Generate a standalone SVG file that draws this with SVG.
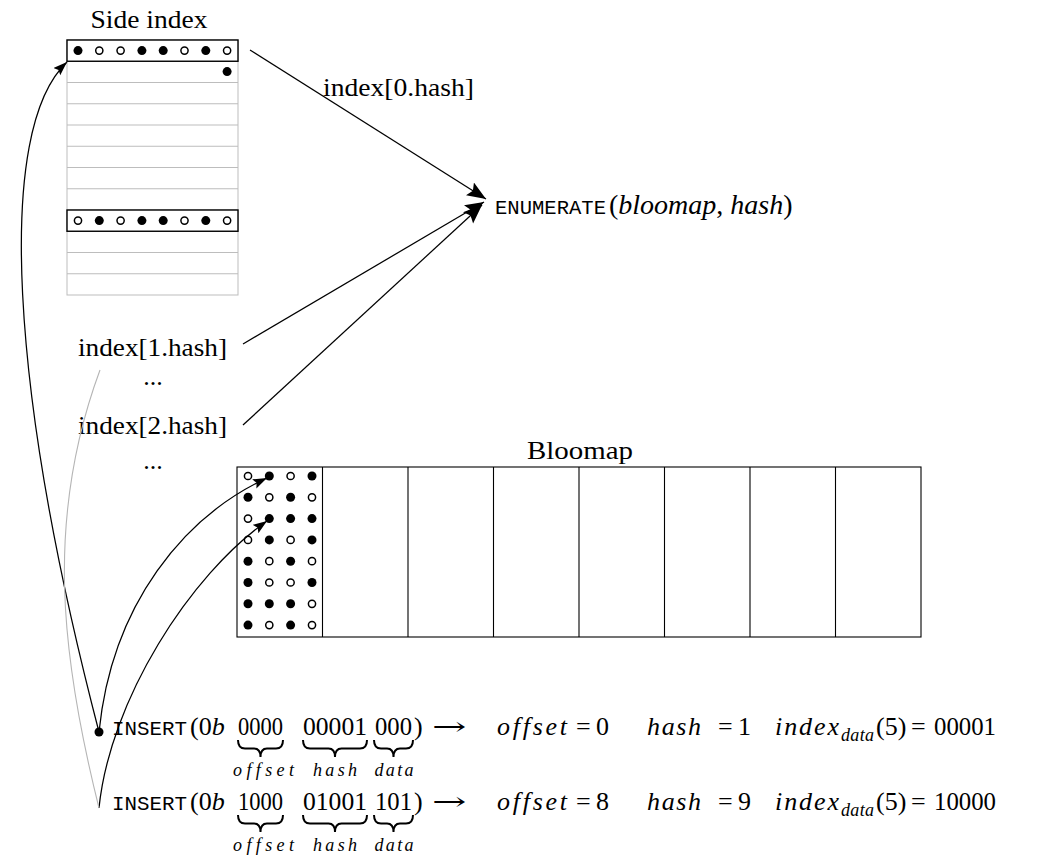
<svg xmlns="http://www.w3.org/2000/svg" width="1056" height="858" viewBox="0 0 1056 858">
<style>
.t{font-family:"Liberation Serif","DejaVu Serif",serif;font-size:26px;fill:#000}
.it{font-style:italic}
.sm{font-size:18px}
.mono{font-family:"Liberation Mono","DejaVu Sans Mono",monospace;font-size:21px;fill:#000}
.arr{font-family:"DejaVu Serif","Liberation Serif",serif;font-size:25px;fill:#000}
.grid{stroke:#bdbdbd;stroke-width:1;fill:none}
.hl{stroke:#000;stroke-width:1.4;fill:#fff}
.f{fill:#000}
.o{fill:#fff;stroke:#000;stroke-width:1.5}
.c{stroke:#000;stroke-width:1.25;fill:none}
.g{stroke:#b5b5b5;stroke-width:1.1;fill:none}
.br{stroke:#000;stroke-width:2;fill:none}
</style>
<defs>
<marker id="ah" markerUnits="userSpaceOnUse" markerWidth="22" markerHeight="16" refX="19" refY="7.5" orient="auto"><path d="M0,0 L19,7.5 L0,15 L3.5,7.5 z" fill="#000"/></marker>
<marker id="as" markerUnits="userSpaceOnUse" markerWidth="16" markerHeight="12" refX="14" refY="5" orient="auto"><path d="M0,0 L14,5 L0,10 L2.5,5 z" fill="#000"/></marker>
</defs>

<g id="side-index">
<text class="t" x="149" y="28" text-anchor="middle" textLength="117" lengthAdjust="spacingAndGlyphs">Side index</text>
<rect class="grid" x="67" y="40" width="171" height="255"/>
<path class="grid" d="M67,61.25H238M67,82.5H238M67,103.75H238M67,125H238M67,146.25H238M67,167.5H238M67,188.75H238M67,210H238M67,231.25H238M67,252.5H238M67,273.75H238"/>
<rect class="hl" x="67" y="40" width="171" height="21.25"/>
<circle class="f" cx="78" cy="50.6" r="4.5"/><circle class="o" cx="99.3" cy="50.6" r="3.6"/><circle class="o" cx="120.6" cy="50.6" r="3.6"/><circle class="f" cx="141.9" cy="50.6" r="4.5"/><circle class="f" cx="163.2" cy="50.6" r="4.5"/><circle class="o" cx="184.5" cy="50.6" r="3.6"/><circle class="f" cx="205.8" cy="50.6" r="4.5"/><circle class="o" cx="227.1" cy="50.6" r="3.6"/>
<circle class="f" cx="227.1" cy="71.6" r="4.5"/>
<rect class="hl" x="67" y="210" width="171" height="21.25"/>
<circle class="o" cx="78" cy="220.6" r="3.6"/><circle class="f" cx="99.3" cy="220.6" r="4.5"/><circle class="o" cx="120.6" cy="220.6" r="3.6"/><circle class="f" cx="141.9" cy="220.6" r="4.5"/><circle class="f" cx="163.2" cy="220.6" r="4.5"/><circle class="o" cx="184.5" cy="220.6" r="3.6"/><circle class="f" cx="205.8" cy="220.6" r="4.5"/><circle class="o" cx="227.1" cy="220.6" r="3.6"/>
</g>

<g id="label-index0"><text class="t" x="323" y="96" textLength="151" lengthAdjust="spacingAndGlyphs">index[0.hash]</text></g>

<g id="enumerate">
<text class="mono" x="495" y="214" textLength="111" lengthAdjust="spacingAndGlyphs">ENUMERATE</text>
<text class="t" x="609" y="214" style="font-size:28px">(<tspan class="it">bloomap</tspan>, <tspan class="it">hash</tspan>)</text>
</g>

<g id="label-index1"><text class="t" x="78" y="356" textLength="149" lengthAdjust="spacingAndGlyphs">index[1.hash]</text><text class="t" x="153" y="385" text-anchor="middle">...</text></g>
<g id="label-index2"><text class="t" x="78" y="434" textLength="149" lengthAdjust="spacingAndGlyphs">index[2.hash]</text><text class="t" x="153" y="469" text-anchor="middle">...</text></g>

<g id="bloomap">
<text class="t" x="580" y="459" text-anchor="middle" textLength="106" lengthAdjust="spacingAndGlyphs">Bloomap</text>
<rect x="237" y="467" width="684" height="170" fill="none" stroke="#000" stroke-width="1.1"/>
<path d="M322.5,467V637M408,467V637M493.5,467V637M579,467V637M664.5,467V637M750,467V637M835.5,467V637" stroke="#000" stroke-width="1.1"/>
<g>
<circle class="o" cx="248" cy="476" r="3.6"/><circle class="f" cx="269.3" cy="476" r="4.5"/><circle class="o" cx="290.6" cy="476" r="3.6"/><circle class="f" cx="312" cy="476" r="4.5"/>
<circle class="f" cx="248" cy="497.3" r="4.5"/><circle class="o" cx="269.3" cy="497.3" r="3.6"/><circle class="f" cx="290.6" cy="497.3" r="4.5"/><circle class="o" cx="312" cy="497.3" r="3.6"/>
<circle class="o" cx="248" cy="518.6" r="3.6"/><circle class="f" cx="269.3" cy="518.6" r="4.5"/><circle class="f" cx="290.6" cy="518.6" r="4.5"/><circle class="f" cx="312" cy="518.6" r="4.5"/>
<circle class="o" cx="248" cy="539.9" r="3.6"/><circle class="f" cx="269.3" cy="539.9" r="4.5"/><circle class="o" cx="290.6" cy="539.9" r="3.6"/><circle class="f" cx="312" cy="539.9" r="4.5"/>
<circle class="f" cx="248" cy="561.2" r="4.5"/><circle class="o" cx="269.3" cy="561.2" r="3.6"/><circle class="f" cx="290.6" cy="561.2" r="4.5"/><circle class="o" cx="312" cy="561.2" r="3.6"/>
<circle class="f" cx="248" cy="582.5" r="4.5"/><circle class="o" cx="269.3" cy="582.5" r="3.6"/><circle class="o" cx="290.6" cy="582.5" r="3.6"/><circle class="f" cx="312" cy="582.5" r="4.5"/>
<circle class="f" cx="248" cy="603.8" r="4.5"/><circle class="f" cx="269.3" cy="603.8" r="4.5"/><circle class="f" cx="290.6" cy="603.8" r="4.5"/><circle class="o" cx="312" cy="603.8" r="3.6"/>
<circle class="f" cx="248" cy="625.1" r="4.5"/><circle class="o" cx="269.3" cy="625.1" r="3.6"/><circle class="f" cx="290.6" cy="625.1" r="4.5"/><circle class="o" cx="312" cy="625.1" r="3.6"/>
</g>
</g>

<g id="insert1">
<circle class="f" cx="99" cy="732" r="4.5"/>
<text class="mono" x="112" y="735" textLength="75" lengthAdjust="spacingAndGlyphs">INSERT</text>
<text class="t" x="190" y="735">(0<tspan class="it">b</tspan></text>
<text class="t" x="238" y="735" textLength="45" lengthAdjust="spacingAndGlyphs">0000</text>
<text class="t" x="303" y="735" textLength="64" lengthAdjust="spacingAndGlyphs">00001</text>
<text class="t" x="375" y="735" textLength="37" lengthAdjust="spacingAndGlyphs">000</text>
<text class="t" x="414" y="735">)</text>
<text class="arr" transform="translate(432,735) scale(1.65,1)" x="0" y="0">→</text>
<path class="br" d="M238,740 Q238,748.5 245,748.5 L254,748.5 Q260.5,748.5 260.5,757 Q260.5,748.5 267,748.5 L276,748.5 Q283,748.5 283,740"/>
<path class="br" d="M303,740 Q303,748.5 310,748.5 L328.5,748.5 Q335,748.5 335,757 Q335,748.5 341.5,748.5 L360,748.5 Q367,748.5 367,740"/>
<path class="br" d="M374,740 Q374,748.5 381,748.5 L387,748.5 Q393.5,748.5 393.5,757 Q393.5,748.5 400,748.5 L406,748.5 Q413,748.5 413,740"/>
<text class="t it sm" x="233" y="776" textLength="61" lengthAdjust="spacing">offset</text>
<text class="t it sm" x="335" y="776" text-anchor="middle" textLength="44" lengthAdjust="spacing">hash</text>
<text class="t it sm" x="394" y="776" text-anchor="middle" textLength="39" lengthAdjust="spacing">data</text>
<text class="t it" x="497" y="735" textLength="70" lengthAdjust="spacing">offset</text>
<text class="t" x="576" y="735">=</text><text class="t" x="596" y="735">0</text>
<text class="t it" x="647" y="735" textLength="54" lengthAdjust="spacing">hash</text>
<text class="t" x="718" y="735">=</text><text class="t" x="738" y="735">1</text>
<text class="t it" x="775" y="735" textLength="64" lengthAdjust="spacing">index</text>
<text class="t it sm" x="841" y="741" textLength="33" lengthAdjust="spacing">data</text>
<text class="t" x="876" y="735">(5)</text>
<text class="t" x="911" y="735">=</text>
<text class="t" x="934" y="735" textLength="62" lengthAdjust="spacingAndGlyphs">00001</text>
</g>

<g id="insert2">
<text class="mono" x="112" y="810" textLength="75" lengthAdjust="spacingAndGlyphs">INSERT</text>
<text class="t" x="190" y="810">(0<tspan class="it">b</tspan></text>
<text class="t" x="238" y="810" textLength="45" lengthAdjust="spacingAndGlyphs">1000</text>
<text class="t" x="303" y="810" textLength="64" lengthAdjust="spacingAndGlyphs">01001</text>
<text class="t" x="375" y="810" textLength="37" lengthAdjust="spacingAndGlyphs">101</text>
<text class="t" x="414" y="810">)</text>
<text class="arr" transform="translate(432,810) scale(1.65,1)" x="0" y="0">→</text>
<path class="br" d="M238,815 Q238,823.5 245,823.5 L254,823.5 Q260.5,823.5 260.5,832 Q260.5,823.5 267,823.5 L276,823.5 Q283,823.5 283,815"/>
<path class="br" d="M303,815 Q303,823.5 310,823.5 L328.5,823.5 Q335,823.5 335,832 Q335,823.5 341.5,823.5 L360,823.5 Q367,823.5 367,815"/>
<path class="br" d="M374,815 Q374,823.5 381,823.5 L387,823.5 Q393.5,823.5 393.5,832 Q393.5,823.5 400,823.5 L406,823.5 Q413,823.5 413,815"/>
<text class="t it sm" x="233" y="851" textLength="61" lengthAdjust="spacing">offset</text>
<text class="t it sm" x="335" y="851" text-anchor="middle" textLength="44" lengthAdjust="spacing">hash</text>
<text class="t it sm" x="394" y="851" text-anchor="middle" textLength="39" lengthAdjust="spacing">data</text>
<text class="t it" x="497" y="810" textLength="70" lengthAdjust="spacing">offset</text>
<text class="t" x="576" y="810">=</text><text class="t" x="596" y="810">8</text>
<text class="t it" x="647" y="810" textLength="54" lengthAdjust="spacing">hash</text>
<text class="t" x="718" y="810">=</text><text class="t" x="738" y="810">9</text>
<text class="t it" x="775" y="810" textLength="64" lengthAdjust="spacing">index</text>
<text class="t it sm" x="841" y="816" textLength="33" lengthAdjust="spacing">data</text>
<text class="t" x="876" y="810">(5)</text>
<text class="t" x="911" y="810">=</text>
<text class="t" x="934" y="810" textLength="62" lengthAdjust="spacingAndGlyphs">10000</text>
</g>

<g id="connectors">
<path class="c" d="M250,50 L486,199" marker-end="url(#ah)"/>
<path class="c" d="M243,344 L484,202" marker-end="url(#ah)"/>
<path class="c" d="M243,425 L482,205" marker-end="url(#ah)"/>
<path class="c" d="M99,732 C10,390 -5,130 67,62" marker-end="url(#as)"/>
<path class="c" d="M99,732 C112,603 185,516 267,478" marker-end="url(#as)"/>
<path class="c" d="M99,808 C110,700 190,575 267,521" marker-end="url(#as)"/>
<path class="g" d="M100,370 C44.5,520 61.5,658 99,808"/>
</g>
</svg>
